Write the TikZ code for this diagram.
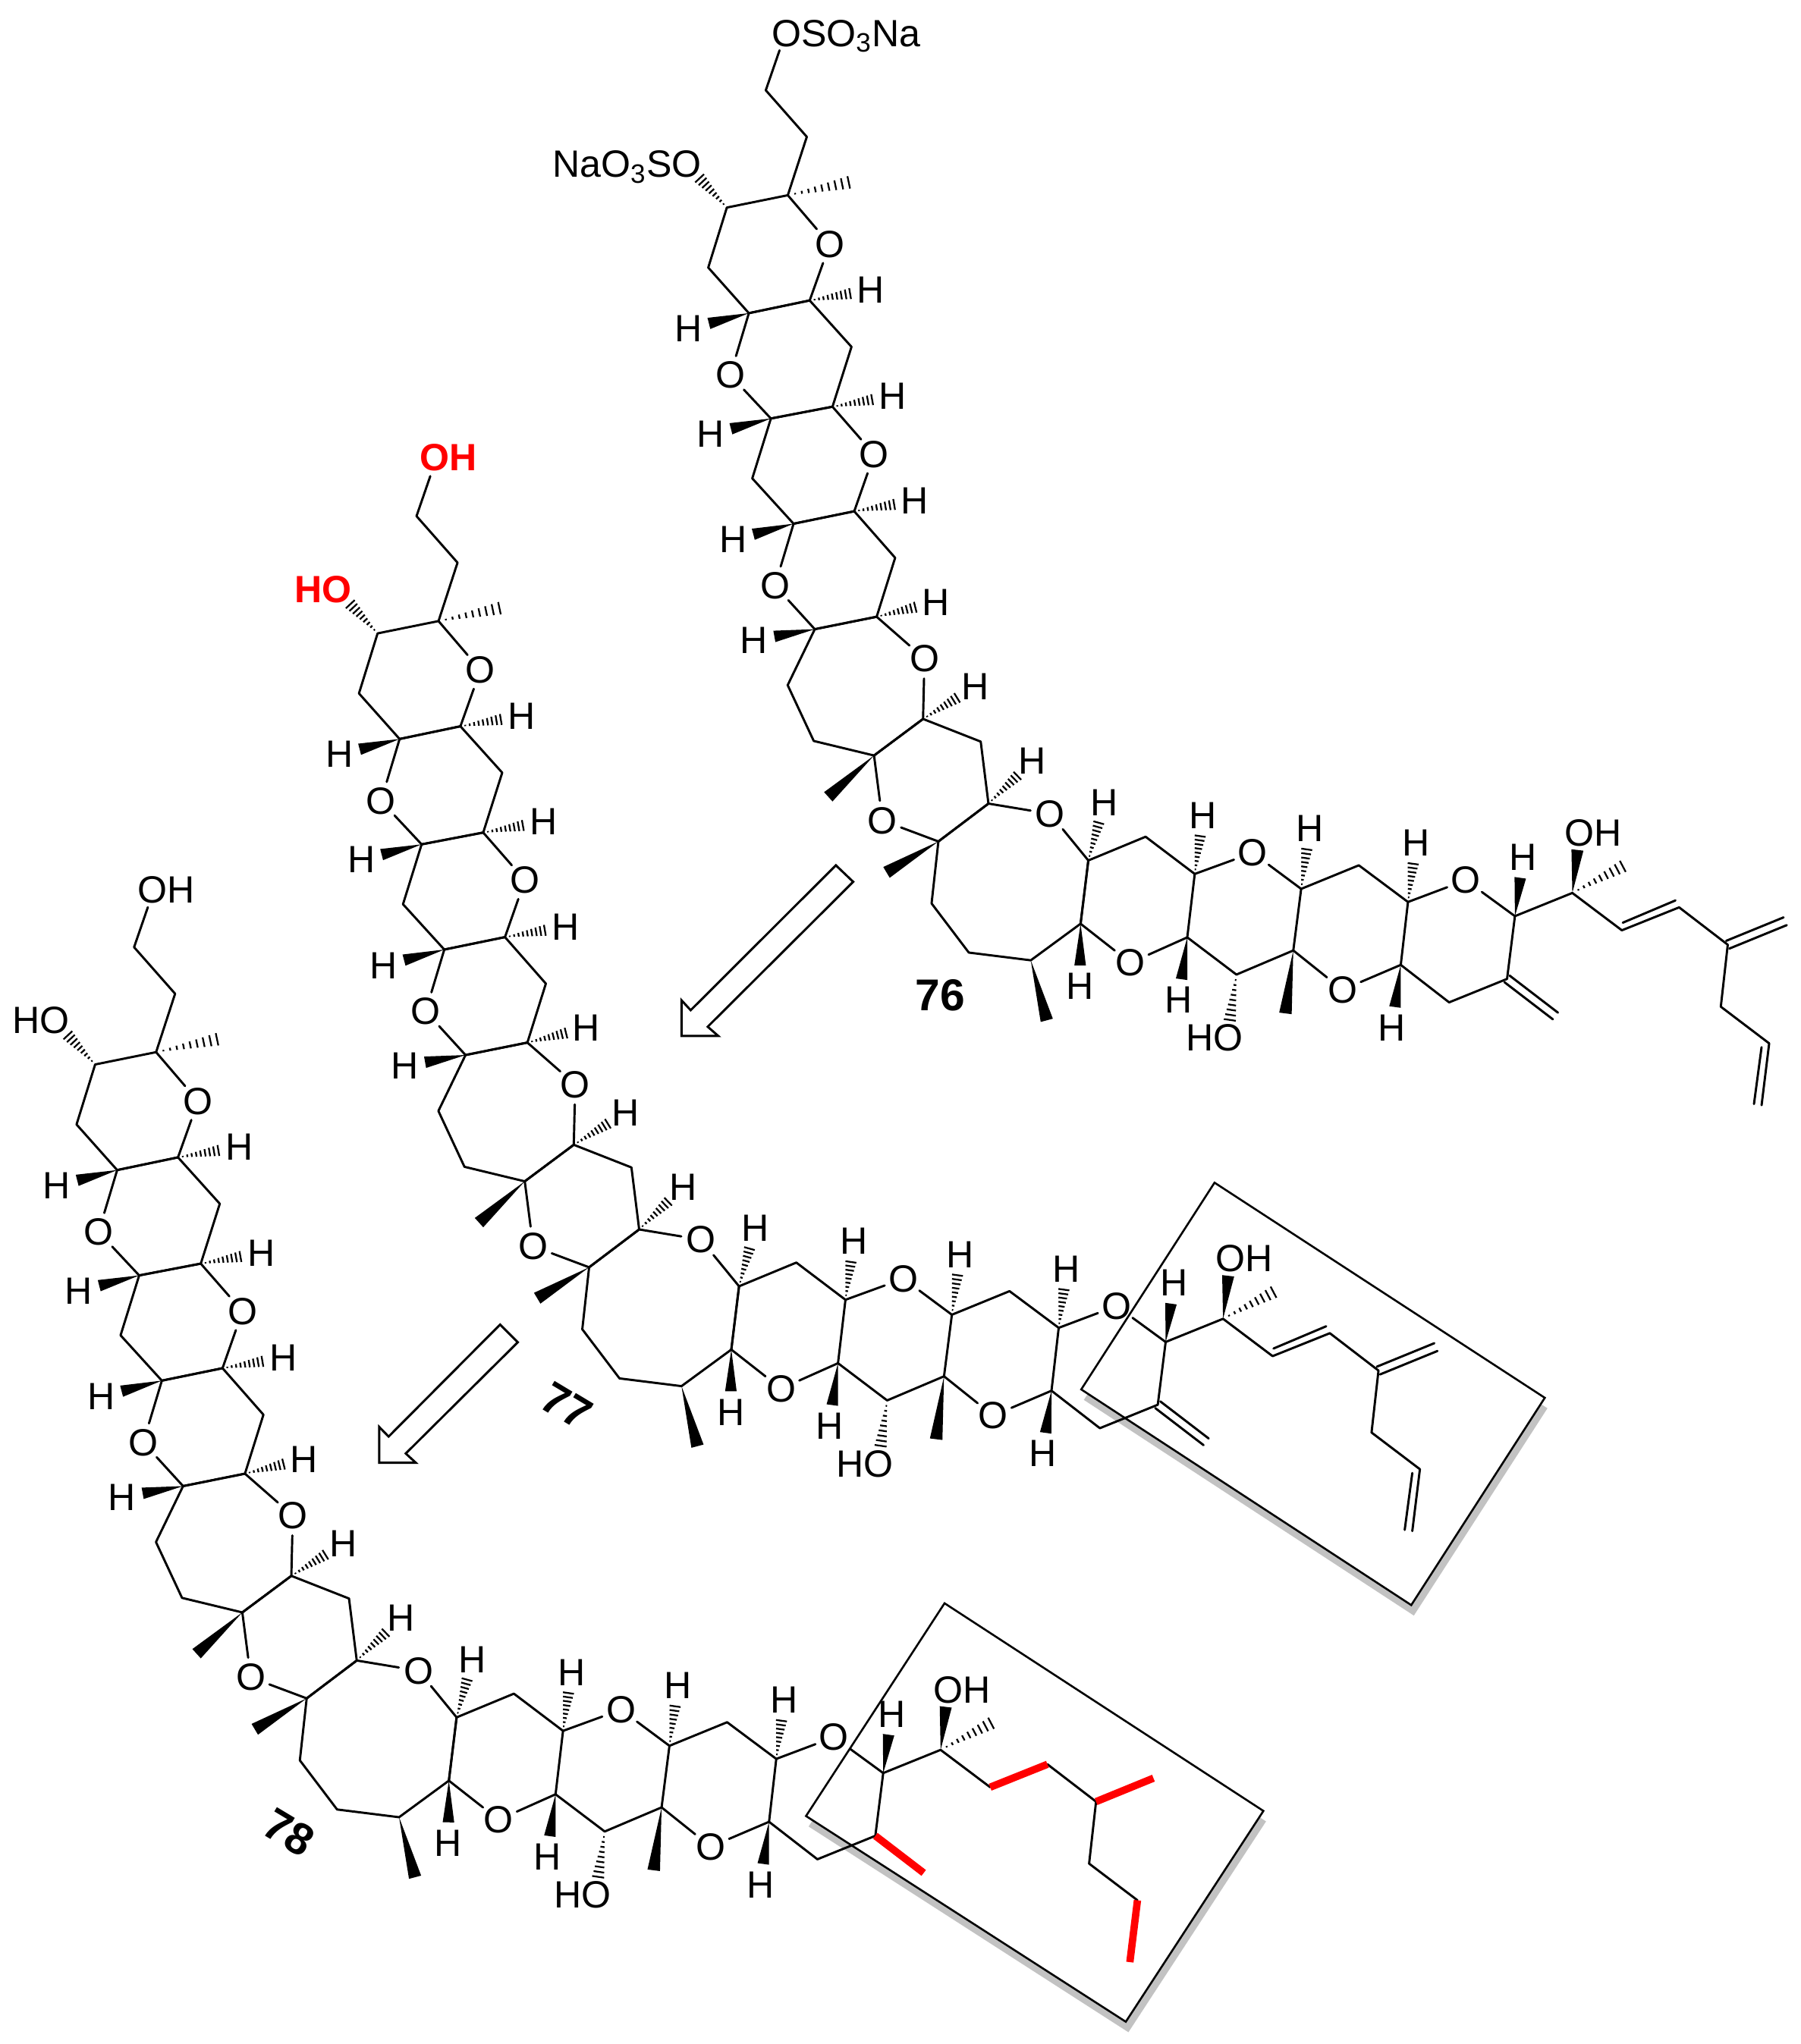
\documentclass[tikz,border=0pt]{standalone}
\usepackage{fontspec}
\setmainfont{Liberation Sans}
\usetikzlibrary{calc}
\newcommand\atomfont{\fontsize{14.5}{16}\selectfont}
\definecolor{shadowgray}{gray}{0.76}
\tikzset{
  bond/.style={line width=0.85pt,line cap=round,line join=round},
  atom/.style={font=\atomfont,inner sep=0pt,outer sep=0pt},
  oxy/.style={font=\atomfont,circle,inner sep=0pt,minimum size=14pt,outer sep=0pt},
  labeltext/.style={font=\atomfont,inner sep=0pt,outer sep=0pt},
  hashline/.style={line width=0.65pt},
  redbond/.style={line width=2.8pt,red},
  openarrow/.style={line width=0.85pt,line join=miter,fill=white},
  panel/.style={line width=0.75pt,fill=white},
  panelshadow/.style={fill=shadowgray,draw=none},
  idtext/.style={font=\fontsize{17}{19}\selectfont\bfseries,inner sep=0pt}
}
% stereo bonds
\newcommand\wedgeb[3]{\fill (#1) -- ($(#2)!#3!90:(#1)$) -- ($(#2)!#3!-90:(#1)$) -- cycle;}
\newcommand\hashb[3]{\foreach \t in {0.12,0.23,0.34,0.45,0.56,0.67,0.78,0.89,1}{
  \path ($(#1)!\t!(#2)$) coordinate (hp);
  \draw[hashline] ($(hp)!\t*#3!90:(#1)$) -- ($(hp)!\t*#3!-90:(#1)$);}}
\newcommand\hH[3]{\node[atom] (#1) at (#2) {H};
  \path ($(#1)!8pt!(#3)$) coordinate (#1e); \hashb{#3}{#1e}{2.1pt}}
\newcommand\wH[3]{\node[atom] (#1) at (#2) {H};
  \path ($(#1)!8pt!(#3)$) coordinate (#1e); \wedgeb{#3}{#1e}{2.2pt}}
\newcommand\skeleton{
  \foreach \n/\x/\y in {c1/583.5/68.5,c2/614.8/104,c3/600.3/148.6,c4/553.8/158,c5/617/228.9,c6/539.6/203.8,
    c7/570.6/238.6,c8/648.9/264.3,c9/587.4/319,c10/634.4/310,c11/573.2/364.7,c12/651/389.8,c13/604.7/399.3,
    c14/682.2/425.3,c15/620.9/479.8,c16/668.1/470.3,c17/600.2/522.5,c18/703.5/548.3,c19/620.1/565.1,
    c20/666.1/576.2,c21/747.5/565.6,c22/753.4/612.9,c23/715.2/641.8,c24/829.6/656.3,c25/710/689.1,
    c26/738.4/726.6,c27/785.7/732.5,c28/823.7/704.6,c29/873.3/638.2,c30/910.8/666.6,c31/992/678,
    c32/1036/660,c33/1073.5/688,c34/905.1/715,c35/942.6/743.4,c36/986/725,c37/1155.1/698.8,c38/1068/736,
    c39/1104.9/764.6,c40/1149.1/746.7,c41/1198.9/681.1,c42/1236.7/709.6,c43/1280.4/692.1,c44/1317.5/720.6,
    c45/1312.2/767.9,c46/1349.1/795.9,c47/1343.3/843.1,e1/1361.3/702.7,e2/1186/775,
    i1/1237.4/703.8,i2/1277.6/686.8,i3/1343.3/798.8,i4/1337.5/842.2,topend/594/38,
    me1/646.8/138.8,leftend/533/135.7,me2/631.2/607.7,me3/675.6/665.4,me4/797.9/778.3,me5/980/773,
    me6/1237.4/660.8,hoend/937.6/778,ohend/1202.8/648.3}{\coordinate (\n) at (\x,\y);}
  \foreach \n/\x/\y in {o1/632.3/186,o2/556.4/285.9,o3/666.2/346.4,o4/590.5/446.5,o5/704.6/502.3,o6/672.5/625.8,
    o7/800.5/620.7,o8/861.7/734.4,o9/955/650.5,o10/1023.5/755,o11/1117.6/671.4}{\node[oxy] (\n) at (\x,\y) {O};}
  \node[atom] (hoa) at (925.8,791.7) {HO};
  \node[atom] (oha) at (1215,635.3) {OH};
  \draw[bond] (topend)--(c1)--(c2)--(c3)--(c4)--(c6)--(c7)--(c5)--(c8)--(c10)--(c9)--(c11)--(c13)--(c12)--(c14)--(c16)--(c15)--(c17)--(c19)--(c20)--(c18)--(c21)--(c22)--(c23)--(c25)--(c26)--(c27)--(c28)--(c24)--(c29)--(c30)--(c34)--(c35)--(c36)--(c31)--(c32)--(c33)--(c38)--(c39)--(c40)--(c37)--(c41)--(c42);
  \draw[bond] (c7)--(c5) (c9)--(c10) (c13)--(c12) (c15)--(c16) (c20)--(c18) (c23)--(c22) (c28)--(c24);
  \draw[bond] (c43)--(c44)--(c45)--(c46);
  \draw[bond] (c3)--(o1) (o1)--(c5) (c7)--(o2) (o2)--(c9) (c10)--(o3) (o3)--(c12) (c13)--(o4) (o4)--(c15)
    (c16)--(o5) (o5)--(c18) (c20)--(o6) (o6)--(c23) (c22)--(o7) (o7)--(c24) (c28)--(o8) (o8)--(c34)
    (c30)--(o9) (o9)--(c31) (c36)--(o10) (o10)--(c38) (c33)--(o11) (o11)--(c37);
  \hashb{c3}{me1}{2.4pt}
  \hashb{c4}{leftend}{2.3pt}
  \hH{h1}{663.6,221}{c5}
  \wH{h2}{524.6,250.4}{c7}
  \hH{h3}{680.4,301.8}{c10}
  \wH{h4}{541.4,330.8}{c9}
  \hH{h5}{697.2,381.9}{c12}
  \wH{h6}{558.5,411.4}{c13}
  \hH{h7}{713.1,459.2}{c16}
  \wH{h8}{574.3,488.1}{c15}
  \hH{h9}{743.1,523.8}{c18}
  \wedgeb{c20}{me2}{2.4pt}
  \wedgeb{c23}{me3}{2.4pt}
  \hH{h10}{787,580.6}{c22}
  \wedgeb{c27}{me4}{2.4pt}
  \wH{h11}{823.2,752.4}{c28}
  \hH{h12}{841.8,612.1}{c24}
  \hH{h13}{917.2,621.9}{c30}
  \wH{h14}{898.6,762.8}{c34}
  \hashb{c35}{hoend}{2.3pt}
  \wedgeb{c36}{me5}{2.4pt}
  \hH{h15}{998.5,632}{c31}
  \hH{h16}{1079.6,643}{c33}
  \wH{h17}{1061.4,784}{c38}
  \wH{h18}{1161.4,653.7}{c37}
  \wedgeb{c41}{ohend}{2.3pt}
  \hashb{c41}{me6}{2.4pt}
}
\newcommand\dienes{
  \draw[bond] (c42)--(c43) (i1)--(i2) (c46)--(c47) (i3)--(i4);
  \draw[bond] ($(c44)!1.6pt!90:(e1)$)--($(e1)!1.6pt!-90:(c44)$);
  \draw[bond] ($(c44)!1.6pt!-90:(e1)$)--($(e1)!1.6pt!90:(c44)$);
  \draw[bond] ($(c40)!1.6pt!90:(e2)$)--($(e2)!1.6pt!-90:(c40)$);
  \draw[bond] ($(c40)!1.6pt!-90:(e2)$)--($(e2)!1.6pt!90:(c40)$);
}
\newcommand\redbonds{
  \draw[redbond] (c42)--(c43);
  \draw[redbond] (c46)--(c47);
  \draw[redbond] (c44)--(e1);
  \draw[redbond] (c40)--(e2);
}
\begin{document}
\begin{tikzpicture}[x=0.5pt,y=-0.5pt]
\useasboundingbox (0,0) rectangle (1374,1560);
% panels with shadow
\fill[panelshadow] (928.7,910.6)--(1180.7,1074.8)--(1078.8,1233)--(827,1068.4)--cycle;
\draw[panel] (926.7,902.6)--(1178.7,1066.8)--(1076.8,1225)--(825,1060.4)--cycle;
\fill[panelshadow] (722.7,1231.6)--(966,1390.1)--(861,1551)--(617,1394)--cycle;
\draw[panel] (720.7,1223.6)--(964,1382.1)--(859,1543)--(615,1386)--cycle;
% reaction arrows
\draw[openarrow] (637.8,660.4)--(651,673)--(540,783.6)--(548,790.6)--(520,790.6)--(520,763.4)--(527,771)--cycle;
\draw[openarrow] (381.6,1010.9)--(395.1,1024.4)--(309.6,1109.3)--(317.3,1116.4)--(289.4,1116.4)--(289.4,1089.1)--(296.5,1096.4)--cycle;
% 76
\begin{scope}[shift={(0.8,0.4)},name prefix=m76-]
  \skeleton \dienes
  \node[labeltext,anchor=base west] (top) at (587.9,35) {OSO\textsubscript{3}Na};
  \node[labeltext,anchor=base east] (left) at (534.5,135) {NaO\textsubscript{3}SO};
  \node[idtext] (id) at (716.5,759) {76};
\end{scope}
% 77
\begin{scope}[shift={(-265.7,325.4)},name prefix=m77-]
  \skeleton \dienes
  \node[labeltext,text=red,font=\atomfont\bfseries] (top) at (608,24) {OH};
  \node[labeltext,text=red,font=\atomfont\bfseries] (left) at (512.3,124.3) {HO};
  \node[idtext,rotate=-31] (id) at (698,747.5) {77};
\end{scope}
% 78
\begin{scope}[shift={(-481.2,654.4)},name prefix=m78-]
  \skeleton \redbonds
  \node[labeltext] (top) at (608,24.5) {OH};
  \node[labeltext] (left) at (512.3,124.3) {HO};
  \node[idtext,rotate=-31] (id) at (701.5,744) {78};
\end{scope}
\end{tikzpicture}
\end{document}
